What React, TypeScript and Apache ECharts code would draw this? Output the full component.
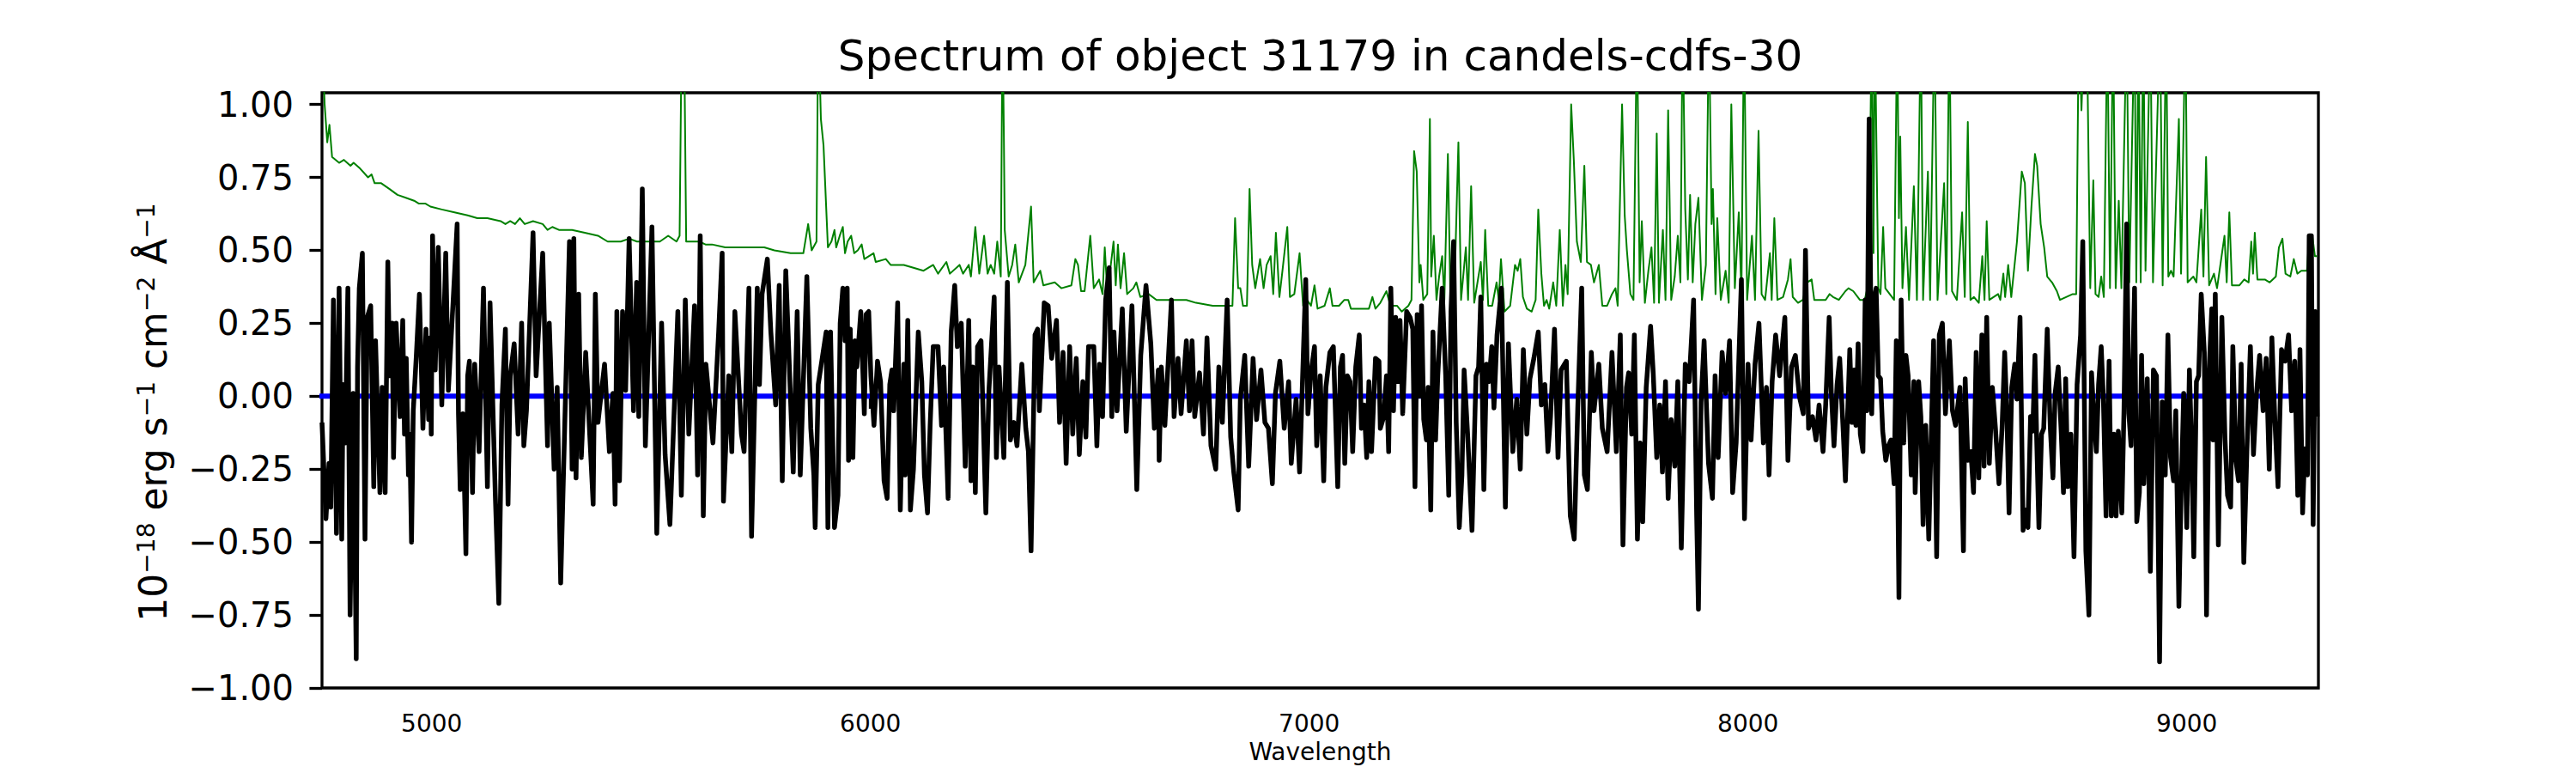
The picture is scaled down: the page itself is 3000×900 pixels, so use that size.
import React, { useEffect, useRef } from "react";
import * as echarts from "echarts";

const TITLE = "Spectrum of object 31179 in candels-cdfs-30";
const X_LABEL = "Wavelength";
const X_TICKS = [5000, 6000, 7000, 8000, 9000];
const Y_TICKS = [-1, -0.75, -0.5, -0.25, 0, 0.25, 0.5, 0.75, 1];
const X_RANGE = [4750, 9300];
const Y_RANGE = [-1, 1.04];

// black: object flux
const FLUX_WL = [
  4750, 4759, 4766, 4770, 4776, 4783, 4789, 4795, 4798, 4803, 4809, 4814, 4821, 4828, 4831, 4835, 4842, 4848, 4853, 4861,
  4868, 4872, 4882, 4887, 4894, 4900, 4904, 4910, 4913, 4919, 4928, 4934, 4938, 4942, 4947, 4950, 4954, 4958, 4965, 4972,
  4980, 4987, 4993, 4997, 4999, 5002, 5008, 5015, 5023, 5032, 5038, 5049, 5058, 5061, 5065, 5071, 5078, 5082, 5086, 5093,
  5098, 5108, 5118, 5127, 5133, 5145, 5153, 5160, 5168, 5174, 5179, 5188, 5197, 5205, 5210, 5216, 5231, 5238, 5253, 5264,
  5268, 5279, 5286, 5294, 5314, 5320, 5324, 5329, 5335, 5341, 5351, 5368, 5373, 5379, 5394, 5405, 5413, 5418, 5422, 5428,
  5435, 5442, 5450, 5460, 5467, 5472, 5480, 5487, 5502, 5513, 5524, 5532, 5543, 5561, 5569, 5578, 5586, 5599, 5606, 5612,
  5619, 5625, 5641, 5654, 5662, 5665, 5677, 5684, 5691, 5706, 5712, 5723, 5729, 5742, 5747, 5753, 5765, 5773, 5784, 5792,
  5799, 5807, 5812, 5824, 5833, 5840, 5855, 5864, 5871, 5874, 5881, 5899,
  5903, 5909, 5918, 5926, 5931, 5937, 5942, 5947, 5950, 5954, 5960, 5965, 5969, 5978, 5986, 5990, 5996, 6001, 6008, 6016,
  6023, 6031, 6038, 6044, 6049, 6053, 6062, 6068, 6076, 6079, 6085, 6091, 6098, 6109, 6117, 6123, 6130, 6136, 6143, 6154,
  6162, 6167, 6177, 6184, 6192, 6198, 6207, 6216, 6224, 6229, 6233, 6239, 6244, 6252, 6263, 6270, 6282, 6287, 6293, 6304,
  6312, 6319, 6327, 6334, 6345, 6354, 6360, 6366, 6375, 6381, 6385, 6396, 6405, 6413, 6424, 6431, 6439, 6446, 6454, 6461,
  6469, 6476, 6484, 6491, 6497, 6509, 6516, 6522, 6529, 6536, 6544, 6550, 6555, 6562, 6574, 6583, 6596, 6607, 6616, 6628,
  6639, 6647, 6656, 6658, 6663, 6671, 6686, 6692, 6701, 6708, 6720, 6727, 6733, 6739, 6750, 6759, 6767, 6776, 6787, 6794,
  6802, 6813, 6821, 6828, 6838, 6843, 6853, 6862, 6872, 6880, 6890, 6899, 6907, 6916, 6923, 6933, 6943, 6953, 6959, 6970,
  6978, 6985, 6992, 6997, 7004, 7012, 7017, 7025, 7033, 7038, 7047, 7055, 7065,
  7071, 7076, 7081, 7087, 7093, 7099, 7106, 7114, 7119, 7125, 7131, 7136, 7142, 7151, 7159, 7162, 7170, 7176, 7181, 7186,
  7192, 7197, 7202, 7207, 7213, 7222, 7230, 7236, 7241, 7246, 7251, 7256, 7261, 7267, 7271, 7277, 7282, 7288, 7293, 7303,
  7311, 7318, 7323, 7329, 7335, 7342, 7348, 7353, 7361, 7371, 7380, 7386, 7391, 7398, 7404, 7410, 7416, 7421, 7428, 7438,
  7447, 7454, 7464, 7473, 7481, 7488, 7496, 7503, 7512, 7522, 7529, 7537, 7544, 7550, 7559, 7567, 7574, 7586, 7595, 7604,
  7612, 7621, 7627, 7634, 7643, 7649, 7660, 7668, 7679, 7690, 7700, 7709, 7715, 7723, 7728, 7735, 7741, 7748, 7754, 7760,
  7768, 7778, 7784, 7792, 7799, 7805, 7812, 7818, 7825, 7833, 7840, 7848, 7857, 7866, 7876, 7883, 7887, 7893, 7900, 7910,
  7919, 7925, 7932, 7941, 7949, 7958, 7965, 7973, 7985, 7992, 8000, 8007, 8016, 8025, 8035, 8042, 8048, 8055, 8063, 8072,
  8084, 8091, 8099, 8108, 8117, 8126, 8131, 8138, 8147, 8155, 8162, 8171, 8177, 8185, 8190, 8196, 8203, 8209, 8217, 8222,
  8232, 8237, 8242, 8246, 8251, 8256, 8262, 8267, 8271, 8276, 8282, 8287, 8292, 8297, 8302, 8307, 8314, 8320, 8326, 8333,
  8338, 8344, 8349, 8355, 8360, 8365, 8372, 8378, 8381, 8389, 8394, 8399, 8405, 8412, 8417, 8423, 8430, 8436, 8443, 8450,
  8459, 8466, 8473, 8483, 8491, 8495, 8501, 8508, 8514, 8520, 8526, 8533, 8538, 8544, 8550, 8557, 8564, 8572, 8579, 8585,
  8590, 8595, 8601, 8608, 8613, 8620, 8627, 8632, 8638, 8644, 8649, 8654, 8658, 8663, 8669, 8674, 8682, 8689, 8695, 8700,
  8707, 8714, 8719, 8724, 8729, 8736, 8743, 8750, 8758, 8763, 8770, 8777, 8783, 8789, 8794, 8799, 8805, 8810, 8816, 8823,
  8828, 8834, 8839, 8844, 8852, 8857, 8863, 8868, 8873, 8881, 8886, 8892, 8897, 8902, 8910, 8917, 8924, 8931, 8938, 8944,
  8951, 8957, 8963, 8970, 8975, 8982, 8987, 8993, 9000, 9006, 9011, 9016, 9022, 9027, 9033, 9040, 9045, 9051, 9057, 9060,
  9065, 9072, 9080, 9087, 9093, 9100, 9105, 9112, 9118, 9124, 9130, 9137, 9145, 9152, 9159, 9166, 9174, 9181, 9188, 9194,
  9201, 9208, 9216, 9224, 9232, 9239, 9246, 9253, 9258, 9264, 9269, 9275, 9279, 9284, 9288, 9293, 9297,
];
const FLUX = [
  -0.09, -0.42, -0.23, -0.38, 0.33, -0.47, 0.37, -0.49, 0.04, -0.16, 0.37, -0.75, 0.01, -0.9, 0.1, 0.37, 0.49, -0.49, 0.27, 0.31,
  -0.31, 0.19, -0.33, 0.03, -0.33, 0.46, 0.07, 0.25, -0.21, 0.25, -0.07, 0.26, -0.13, 0.13, -0.27, -0.13, -0.5, -0.05, 0.14, 0.35,
  -0.11, 0.23, -0.08, 0.2, -0.13, 0.55, 0.09, 0.51, -0.03, 0.49, 0.02, 0.33, 0.59, -0.06, -0.32, -0.06, -0.54, 0.07, 0.12, -0.33,
  0.11, -0.19, 0.37, -0.31, 0.32, -0.34, -0.71, -0.03, 0.23, -0.37, 0.07, 0.18, -0.13, 0.25, -0.17, -0.05, 0.56, 0.07, 0.49, -0.17,
  0.25, -0.25, 0.03, -0.64, 0.53, -0.25, 0.54, -0.28, 0.35, -0.21, 0.15, -0.37, 0.35, -0.09, 0.11, -0.19, 0.01, -0.37, 0.29, -0.29,
  0.29, 0.02, 0.54, -0.05, 0.39, -0.07, 0.71, -0.17, 0.58, -0.47, 0.25, -0.2, -0.44, 0.29, -0.34, 0.33, -0.13, 0.31, -0.27, 0.55,
  -0.41, 0.11, -0.16, 0.22, 0.49, -0.36, 0.07, -0.19, 0.29, -0.13, -0.19, 0.37, -0.48, 0.37, 0.04, 0.35, 0.47, 0.22, -0.03, 0.38,
  -0.29, 0.43, 0.23, -0.26, 0.29, -0.27, 0.41, -0.11, -0.27, -0.45, 0.04, 0.22,
  -0.45, 0.22, -0.45, -0.34, 0.25, 0.37, 0.19, 0.37, -0.22, 0.23, -0.21, 0.19, 0.1, 0.29, -0.06, 0.28, 0.29, 0.07, -0.1, 0.12,
  0.05, -0.29, -0.35, 0.04, 0.09, -0.05, 0.32, -0.39, 0.11, -0.27, 0.26, -0.39, -0.25, 0.22, 0.05, -0.27, -0.4, -0.1, 0.17, 0.17,
  -0.1, 0.1, -0.35, 0.22, 0.38, 0.17, 0.25, -0.24, 0.26, -0.29, 0.1, -0.33, 0.17, 0.19, -0.4, 0.02, 0.34, -0.21, 0.1, -0.21,
  0.39, -0.15, -0.09, -0.17, 0.11, -0.11, -0.19, -0.53, 0.21, 0.23, -0.05, 0.32, 0.31, 0.13, 0.26, -0.09, 0.15, -0.23, 0.17, -0.13,
  0.13, -0.2, 0.05, -0.14, 0.17, 0.17, -0.17, 0.11, -0.07, 0.33, 0.44, -0.07, 0.22, -0.05, 0.3, -0.12, 0.31, -0.32, 0.14, 0.38,
  0.18, -0.11, 0.09, -0.22, 0.1, -0.1, 0.33, -0.07, 0.13, -0.06, 0.19, -0.05, 0.19, -0.07, 0.08, -0.13, 0.2, -0.17, -0.25, 0.1,
  -0.09, 0.33, -0.14, -0.26, -0.39, -0.01, 0.14, -0.24, 0.13, -0.08, 0.09, -0.09, -0.11, -0.3, 0.01, 0.12, -0.11, 0.05, -0.23, -0.01,
  -0.26, 0.07, 0.4, -0.06, 0.08, 0.17, -0.17, 0.07, -0.29, 0.03, 0.15, 0.17, -0.31,
  0.1, 0.14, -0.23, 0.07, 0.05, -0.19, 0.1, 0.21, -0.11, -0.03, -0.21, 0.05, -0.19, 0.13, 0.12, -0.11, -0.07, 0.07, -0.19, 0.37,
  -0.05, 0.27, 0.05, 0.26, -0.06, 0.29, 0.27, 0.23, -0.31, 0.28, 0.0, 0.31, -0.08, -0.15, 0.03, -0.39, 0.22, -0.15, 0.07, 0.37,
  0.07, -0.34, 0.29, 0.53, -0.09, -0.45, -0.27, 0.09, -0.13, -0.46, 0.07, 0.1, 0.34, -0.32, 0.11, 0.05, 0.17, -0.04, 0.21, 0.37,
  -0.38, 0.18, -0.19, -0.01, -0.25, 0.16, -0.13, 0.06, 0.13, 0.22, -0.03, 0.04, -0.19, -0.07, 0.23, -0.21, 0.09, 0.12, -0.41, -0.49,
  -0.04, 0.37, -0.27, -0.32, 0.15, -0.05, 0.11, -0.11, -0.19, 0.15, -0.19, 0.21, -0.51, 0.03, 0.08, -0.13, 0.21, -0.49, -0.16, -0.43,
  0.03, 0.24, 0.08, -0.21, -0.03, -0.26, 0.05, -0.35, -0.08, -0.24, 0.05, -0.52, 0.11, 0.05, 0.33, -0.41, -0.73, -0.02, 0.19, -0.23,
  -0.35, 0.07, -0.21, 0.15, 0.01, 0.19, -0.33, -0.16, 0.4, -0.42, 0.11, -0.15, 0.11, 0.25, -0.16, 0.03, -0.27, 0.05, 0.21, 0.07,
  0.27, -0.22, 0.1, 0.14, 0.0, -0.06, 0.5, -0.11, -0.07, -0.15, -0.03, -0.19, -0.03, 0.27, 0.01, -0.17, 0.04, 0.13, -0.12, -0.29,
  0.16, -0.09, 0.09, -0.1, 0.18, -0.13, -0.19, 0.33, -0.05, 0.95, -0.06, 0.33, 0.37, 0.07, 0.06, -0.12, -0.22, -0.17, -0.15, -0.3,
  0.19, -0.69, 0.33, -0.16, 0.14, 0.07, -0.27, 0.05, -0.33, 0.05, -0.07, -0.44, -0.1, -0.49, -0.17, 0.19, -0.55, 0.21, 0.25, -0.06,
  0.19, -0.05, -0.1, 0.03, -0.53, 0.06, -0.22, -0.19, -0.33, 0.15, -0.28, 0.21, -0.24, 0.27, -0.23, 0.03, -0.11, -0.3, -0.11, 0.15,
  -0.06, -0.4, 0.03, 0.11, -0.01, 0.27, -0.46, -0.39, -0.45, -0.07, -0.12, 0.14, -0.15, -0.45, -0.13, -0.11, 0.23, -0.11, -0.28, 0.01,
  0.1, -0.13, -0.33, 0.06, -0.31, -0.13, -0.55, 0.04, 0.21, 0.53, -0.53, -0.75, 0.08, -0.09, -0.19, 0.04, 0.17, -0.01, -0.41, 0.12,
  -0.41, -0.13, -0.41, -0.12, -0.4, -0.04, 0.59, -0.06, -0.17, 0.37, -0.43, -0.33, 0.14, -0.3, 0.06, -0.6, 0.09, 0.07, -0.91, -0.02,
  -0.27, 0.21, -0.21, -0.29, -0.05, -0.72, -0.34, 0.01, -0.45, 0.09, -0.17, -0.55, 0.05, 0.07, 0.35, 0.15, -0.75, 0.09, 0.3, -0.15,
  0.35, -0.51, 0.27, -0.14, -0.34, -0.38, 0.17, -0.22, -0.29, 0.11, -0.57, -0.19, 0.17, -0.2, 0.01, 0.14, -0.05, 0.13, -0.25, 0.2,
  -0.09, -0.31, 0.16, 0.12, 0.21, -0.05, 0.12, -0.34, 0.16, -0.4, -0.18, -0.27, 0.55, 0.55, -0.44, 0.29, -0.07,
];

// green: sky / noise spectrum (values above the frame are clipped sky lines)
const SKY_WL = [
  4750, 4756, 4762, 4767, 4773, 4789, 4800, 4815, 4822, 4837, 4855, 4863, 4870, 4885, 4904, 4922, 4941, 4960, 4971, 4986,
  4997, 5023, 5052, 5082, 5104, 5127, 5157, 5168, 5179, 5190, 5201, 5212, 5231, 5253, 5264, 5275, 5290, 5320, 5349, 5379,
  5401, 5431, 5450, 5468, 5498, 5520, 5539, 5558, 5565, 5570, 5575, 5580, 5595, 5610, 5624, 5639, 5669, 5706, 5758, 5781,
  5818, 5847, 5858, 5866, 5877, 5881, 5887, 5893, 5903, 5911, 5918, 5922, 5930, 5937, 5942, 5948, 5956, 5963, 5971, 5980,
  5986, 6007, 6012, 6035, 6046, 6076, 6098, 6121, 6143, 6154, 6173, 6181, 6203, 6211, 6224, 6229, 6239, 6248, 6259, 6267,
  6274, 6282, 6289, 6297, 6301, 6304, 6306, 6315, 6323, 6330, 6338, 6353, 6366, 6372, 6387, 6394, 6420, 6435, 6458, 6467,
  6473, 6480, 6488, 6501, 6509, 6521, 6529, 6534, 6540, 6554, 6559, 6564, 6570, 6578, 6585, 6599, 6606, 6615, 6634, 6652,
  6675, 6705, 6720, 6742, 6780, 6810, 6825, 6831, 6838, 6843, 6849, 6858, 6864, 6870, 6877, 6888, 6896, 6903, 6912, 6918,
  6924, 6932, 6939, 6950, 6956, 6966, 6978, 6986, 6995, 7004, 7012, 7019, 7035, 7047, 7053, 7068, 7080, 7089, 7095, 7125,
  7136, 7144, 7151, 7162, 7176, 7185, 7200, 7211, 7226, 7233, 7239, 7245, 7251, 7254, 7260, 7269, 7275, 7278, 7284, 7290,
  7296, 7303, 7308, 7316, 7322, 7331, 7340, 7346, 7357, 7362, 7369, 7376, 7391, 7396, 7401, 7408, 7417, 7427, 7432, 7437,
  7445, 7458, 7469, 7475, 7481, 7487, 7496, 7507, 7516, 7522, 7529, 7535, 7541, 7547, 7556, 7563, 7571, 7578, 7584, 7589,
  7597, 7603, 7610, 7619, 7627, 7633, 7642, 7649, 7660, 7668, 7679, 7690, 7698, 7703, 7713, 7719, 7724, 7732, 7739, 7747,
  7753, 7758, 7765, 7773, 7780, 7786, 7792, 7797, 7806, 7812, 7818, 7825, 7833, 7840, 7846, 7851, 7857, 7863, 7868, 7874,
  7880, 7887, 7895, 7904, 7911, 7917, 7920, 7926, 7930, 7938, 7949, 7956, 7962, 7970, 7979, 7985, 7991, 7998, 8009, 8016,
  8024, 8031, 8039, 8050, 8054, 8060, 8067, 8080, 8091, 8097, 8102, 8114, 8125, 8135, 8145, 8151, 8166, 8177, 8186, 8194,
  8207, 8222, 8229, 8240, 8255, 8266, 8275, 8282, 8286, 8289, 8297, 8302, 8308, 8313, 8323, 8333, 8340, 8344, 8347, 8352,
  8360, 8367, 8378, 8385, 8394, 8399, 8410, 8415, 8425, 8432, 8447, 8452, 8459, 8465, 8476, 8488, 8494, 8501, 8507, 8515,
  8526, 8534, 8539, 8544, 8550, 8570, 8575, 8582, 8586, 8593, 8600, 8613, 8624, 8631, 8638, 8646, 8654, 8659, 8667, 8675,
  8682, 8693, 8704, 8711, 8725, 8740, 8748, 8754, 8760, 8767, 8772, 8780, 8787, 8792, 8799, 8805, 8811, 8819, 8825, 8832,
  8838, 8845, 8851, 8863, 8869, 8881, 8885, 8890, 8895, 8901, 8906, 8917, 8923, 8939, 8945, 8953, 8958, 8964, 8970, 8982,
  8987, 8997, 9002, 9015, 9022, 9033, 9038, 9044, 9051, 9062, 9069, 9086, 9091, 9097, 9103, 9120, 9131, 9141, 9147, 9151,
  9155, 9161, 9178, 9189, 9203, 9210, 9218, 9225, 9236, 9244, 9252, 9261, 9274, 9279, 9286, 9292, 9297,
];
const SKY = [
  1.25, 1.0, 0.87, 0.93, 0.82, 0.8, 0.81, 0.79, 0.8, 0.78, 0.75, 0.76, 0.73, 0.73, 0.71, 0.69, 0.68, 0.67, 0.66, 0.66,
  0.65, 0.64, 0.63, 0.62, 0.61, 0.61, 0.6, 0.59, 0.6, 0.59, 0.61, 0.59, 0.6, 0.59, 0.57, 0.58, 0.57, 0.57, 0.56, 0.55,
  0.53, 0.53, 0.54, 0.53, 0.53, 0.53, 0.55, 0.53, 0.55, 1.3, 1.3, 0.53, 0.53, 0.53, 0.52, 0.52, 0.51, 0.51, 0.51, 0.5,
  0.49, 0.49, 0.59, 0.5, 0.53, 1.3, 0.95, 0.86, 0.51, 0.53, 0.57, 0.51, 0.55, 0.58, 0.49, 0.53, 0.55, 0.49, 0.5, 0.52,
  0.47, 0.49, 0.46, 0.47, 0.45, 0.45, 0.44, 0.43, 0.45, 0.42, 0.46, 0.42, 0.45, 0.42, 0.45, 0.41, 0.58, 0.42, 0.55, 0.42,
  0.45, 0.42, 0.53, 0.41, 1.3, 0.9, 0.57, 0.41, 0.45, 0.52, 0.39, 0.45, 0.65, 0.39, 0.43, 0.38, 0.39, 0.37, 0.38, 0.47,
  0.45, 0.36, 0.36, 0.55, 0.37, 0.4, 0.35, 0.51, 0.35, 0.53, 0.38, 0.52, 0.37, 0.49, 0.35, 0.37, 0.39, 0.34, 0.35, 0.33,
  0.33, 0.33, 0.33, 0.32, 0.31, 0.31, 0.31, 0.61, 0.37, 0.37, 0.31, 0.31, 0.71, 0.45, 0.37, 0.47, 0.37, 0.45, 0.48, 0.35,
  0.56, 0.34, 0.43, 0.58, 0.34, 0.35, 0.49, 0.31, 0.33, 0.31, 0.38, 0.3, 0.31, 0.37, 0.31, 0.31, 0.33, 0.33, 0.3, 0.3,
  0.3, 0.34, 0.3, 0.32, 0.36, 0.31, 0.31, 0.29, 0.31, 0.33, 0.84, 0.77, 0.39, 0.45, 0.33, 0.35, 0.95, 0.41, 0.55, 0.33,
  0.41, 0.48, 0.33, 0.83, 0.31, 0.37, 0.87, 0.33, 0.51, 0.33, 0.72, 0.32, 0.46, 0.33, 0.57, 0.31, 0.31, 0.39, 0.33, 0.47,
  0.29, 0.31, 0.45, 0.43, 0.47, 0.34, 0.3, 0.29, 0.33, 0.64, 0.42, 0.31, 0.33, 0.3, 0.39, 0.31, 0.57, 0.31, 0.45, 0.35,
  1.0, 0.81, 0.53, 0.46, 0.79, 0.46, 0.45, 0.39, 0.45, 0.31, 0.31, 0.35, 0.37, 0.31, 1.0, 0.62, 0.5, 0.35, 0.33, 1.3,
  0.39, 0.6, 0.32, 0.43, 0.51, 0.32, 0.9, 0.32, 0.57, 0.33, 0.98, 0.33, 0.41, 0.55, 0.39, 1.3, 0.64, 0.4, 0.69, 0.39,
  0.59, 0.68, 0.33, 0.45, 1.3, 0.59, 0.71, 0.35, 0.61, 0.33, 0.43, 0.32, 1.0, 0.37, 0.63, 0.35, 1.3, 0.33, 0.55, 0.33,
  0.91, 0.35, 0.33, 0.49, 0.33, 0.61, 0.33, 0.34, 0.4, 0.47, 0.34, 0.32, 0.33, 0.39, 0.4, 0.33, 0.33, 0.33, 0.35, 0.34,
  0.33, 0.36, 0.37, 0.36, 0.33, 0.33, 0.39, 1.3, 0.49, 1.3, 0.37, 0.35, 0.58, 0.37, 0.35, 0.33, 1.3, 0.61, 0.89, 0.37,
  0.58, 0.33, 0.72, 0.33, 1.3, 0.33, 0.77, 0.33, 1.3, 0.33, 0.73, 0.35, 1.3, 0.36, 0.33, 0.63, 0.34, 0.94, 0.33, 0.34,
  0.32, 0.48, 0.33, 0.6, 0.33, 0.35, 0.33, 0.42, 0.34, 0.45, 0.34, 0.53, 0.77, 0.73, 0.43, 0.65, 0.83, 0.79, 0.59, 0.51,
  0.41, 0.39, 0.36, 0.33, 0.34, 0.35, 0.35, 1.3, 0.98, 1.3, 1.3, 0.37, 0.74, 0.35, 0.34, 0.41, 0.34, 1.3, 0.37, 1.3,
  0.37, 0.67, 0.37, 1.3, 0.39, 1.3, 0.39, 1.3, 0.39, 1.3, 0.43, 1.3, 0.39, 1.3, 0.38, 1.3, 0.41, 0.43, 0.41, 0.95,
  0.42, 1.3, 0.39, 0.41, 0.39, 0.64, 0.41, 0.82, 0.38, 0.42, 0.37, 0.55, 0.39, 0.63, 0.38, 0.38, 0.4, 0.39, 0.53, 0.42,
  0.56, 0.4, 0.4, 0.39, 0.41, 0.51, 0.54, 0.42, 0.41, 0.47, 0.42, 0.43, 0.43, 0.55, 0.55, 0.48, 0.48,
];

// blue: zero level
const ZERO_WL = [4740, 9275];
const ZERO = [0, 0];

const FONT = "'DejaVu Sans', 'Liberation Sans', sans-serif";
const zip = (xs: number[], ys: number[]) => xs.map((x, i) => [x, ys[i]]);
const fmtY = (v: number) => v.toFixed(2).replace("-", "\u2212");

export default function App() {
  const ref = useRef<HTMLDivElement>(null);
  useEffect(() => {
    document.body.style.margin = "0";
    const chart = echarts.init(ref.current!, null, { renderer: "svg" });
    chart.setOption({
      animation: false,
      backgroundColor: "#ffffff",
      grid: {
        left: 375,
        right: 300,
        top: 108,
        bottom: 99,
        show: true,
        borderColor: "#000",
        borderWidth: 3.3,
        backgroundColor: "transparent",
      },
      xAxis: {
        type: "value",
        min: X_RANGE[0],
        max: X_RANGE[1],
        splitLine: { show: false },
        axisLine: { show: false },
        axisTick: {
          show: true,
          length: 14.6,
          customValues: X_TICKS,
          lineStyle: { color: "#000", width: 3.3 },
        },
        axisLabel: {
          customValues: X_TICKS,
          formatter: (v: number) => String(Math.round(v)),
          fontSize: 28,
          fontFamily: FONT,
          color: "#000",
          margin: 27,
        },
        name: X_LABEL,
        nameLocation: "middle",
        nameGap: 60,
        nameTextStyle: { fontSize: 28, fontFamily: FONT, color: "#000" },
      },
      yAxis: {
        type: "value",
        min: Y_RANGE[0],
        max: Y_RANGE[1],
        splitLine: { show: false },
        axisLine: { show: false },
        axisTick: {
          show: true,
          length: 14.6,
          customValues: Y_TICKS,
          lineStyle: { color: "#000", width: 3.3 },
        },
        axisLabel: {
          customValues: Y_TICKS,
          formatter: (v: number) => fmtY(v),
          fontSize: 40,
          fontFamily: FONT,
          color: "#000",
          margin: 33,
        },
      },
      series: [
        {
          type: "line",
          data: zip(SKY_WL, SKY),
          showSymbol: false,
          clip: true,
          lineStyle: { color: "#008000", width: 2, join: "round" },
          z: 2,
        },
        {
          type: "line",
          data: zip(ZERO_WL, ZERO),
          showSymbol: false,
          clip: true,
          lineStyle: { color: "#0000ff", width: 6 },
          z: 3,
        },
        {
          type: "line",
          data: zip(FLUX_WL, FLUX),
          showSymbol: false,
          clip: true,
          lineStyle: { color: "#000000", width: 5.5, join: "round" },
          z: 4,
        },
      ],
      graphic: [
        {
          type: "text",
          x: 1537.5,
          y: 65,
          style: {
            text: TITLE,
            fill: "#000",
            font: `50px ${FONT}`,
            align: "center",
            verticalAlign: "middle",
          },
        },
        {
          type: "text",
          x: 178,
          y: 480,
          rotation: Math.PI / 2,
          style: {
            text: "{m|10}{s|\u221218}{m| erg s}{s|\u22121}{m| cm}{s|\u22122}{m| \u00c5}{s|\u22121}",
            align: "center",
            verticalAlign: "middle",
            rich: {
              m: { fontSize: 44, fontFamily: FONT, fill: "#000", lineHeight: 44, verticalAlign: "bottom" },
              s: { fontSize: 28, fontFamily: FONT, fill: "#000", lineHeight: 28, verticalAlign: "top", padding: [0, 0, 32, 0] },
            },
          },
        },
      ],
    });
    return () => chart.dispose();
  }, []);
  return <div ref={ref} style={{ width: 3000, height: 900 }} />;
}
